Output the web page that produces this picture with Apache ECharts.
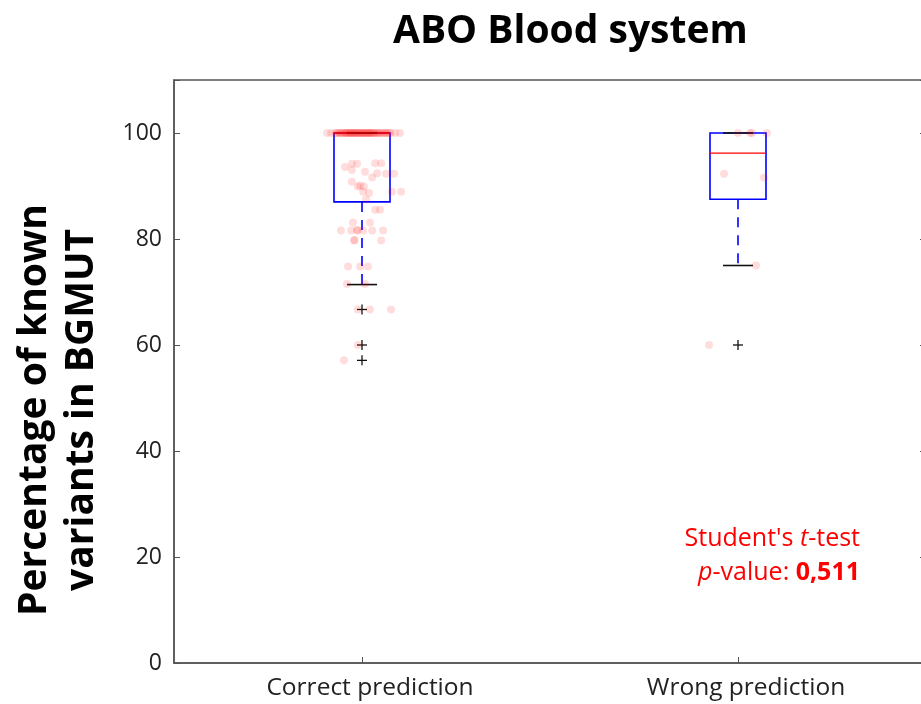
<!DOCTYPE html>
<html>
<head>
<meta charset="utf-8">
<script src="https://cdn.jsdelivr.net/npm/echarts@6/dist/echarts.min.js"></script>
<style>html,body{margin:0;padding:0;background:#fff;}#chart{width:921px;height:704px;}</style>
</head>
<body>
<div id="chart"></div>
<script>
// ---- data ----
const categories = ['Correct prediction', 'Wrong prediction'];
const lowerWhisker = [71.4, 75];
const q1 = [87.0, 87.5];
const median = [100, 96.2];
const q3 = [100, 100];
const upperWhisker = [100, 100];
const outliers = [[66.7, 60, 57.1], [60]];
const yTicks = [0, 20, 40, 60, 80, 100];

// jittered observations: [x position (category 1 or 2 + jitter), value]
const correctPoints = [
  [0.907,100],[0.918,100],[0.928,100],[0.933,100],[0.936,100],[0.941,100],[0.944,100],[0.947,100],
  [0.952,100],[0.955,100],[0.957,100],[0.960,100],[0.963,100],[0.966,100],[0.968,100],[0.971,100],
  [0.973,100],[0.976,100],[0.978,100],[0.981,100],[0.984,100],[0.986,100],[0.989,100],[0.992,100],
  [0.995,100],[0.997,100],[1.000,100],[1.003,100],[1.005,100],[1.008,100],[1.011,100],[1.014,100],
  [1.016,100],[1.019,100],[1.021,100],[1.024,100],[1.027,100],[1.030,100],[1.033,100],[1.036,100],
  [1.040,100],[1.043,100],[1.047,100],[1.051,100],[1.056,100],[1.060,100],[1.064,100],[1.068,100],
  [1.072,100],[1.077,100],[1.088,100],[1.101,100],
  [0.955,93.6],[0.973,94.2],[0.987,94.2],[0.973,93.0],[1.008,92.7],[1.035,94.3],[1.051,94.3],
  [1.040,92.4],[1.027,91.6],[1.064,92.3],[1.085,92.3],[0.973,90.8],[0.989,89.9],[0.995,90.1],
  [1.005,89.9],[1.003,88.9],[1.019,88.7],[1.080,88.9],[1.104,88.9],[1.011,87.5],
  [1.035,85.5],[1.048,85.5],[0.976,83.1],[1.021,83.1],
  [0.944,81.6],[0.971,81.6],[0.987,81.6],[0.988,81.7],[1.003,81.6],[1.027,81.6],[1.056,81.6],
  [0.979,79.7],[0.980,79.8],[1.051,79.7],
  [0.963,74.8],[0.995,74.8],[1.016,74.8],
  [0.960,71.5],[1.008,71.5],
  [0.989,66.7],[1.021,66.7],[1.077,66.7],
  [0.989,60.0],[0.952,57.1]
];
const wrongPoints = [
  [2.000,100],[2.032,100],[2.037,100],[2.077,100],
  [1.963,92.3],[2.069,91.6],[2.048,75.0],[1.923,60.0]
];

// ---- build ----
const boxData = categories.map((c, i) => [i + 1, lowerWhisker[i], q1[i], median[i], q3[i], upperWhisker[i]]);
const outlierData = [];
outliers.forEach((arr, i) => arr.forEach(v => outlierData.push([i + 1, v])));

const FONT = 'Open Sans';
const AXIS_COLOR = '#555';

function renderBox(params, api) {
  const x = api.value(0);
  const pt = v => api.coord([x, v]);
  const cx = pt(0)[0];
  const yLow = pt(api.value(1))[1];
  const yQ1 = pt(api.value(2))[1];
  const yMed = pt(api.value(3))[1];
  const yQ3 = pt(api.value(4))[1];
  const yHigh = pt(api.value(5))[1];
  const hw = 28, cw = 15;
  const blue = '#0000ff';
  return {
    type: 'group',
    children: [
      { type: 'line', shape: { x1: cx, y1: yQ1, x2: cx, y2: yLow }, style: { stroke: blue, lineWidth: 1.6, lineDash: [10, 8] } },
      { type: 'line', shape: { x1: cx, y1: yQ3, x2: cx, y2: yHigh }, style: { stroke: blue, lineWidth: 1.6, lineDash: [10, 8] } },
      { type: 'rect', shape: { x: cx - hw, y: yQ3, width: 2 * hw, height: yQ1 - yQ3 }, style: { fill: 'none', stroke: blue, lineWidth: 1.6 } },
      { type: 'line', shape: { x1: cx - hw, y1: yMed, x2: cx + hw, y2: yMed }, style: { stroke: '#ff0000', lineWidth: 1.4 } },
      { type: 'line', shape: { x1: cx - cw, y1: yLow, x2: cx + cw, y2: yLow }, style: { stroke: '#111', lineWidth: 1.6 } },
      { type: 'line', shape: { x1: cx - cw, y1: yHigh, x2: cx + cw, y2: yHigh }, style: { stroke: '#111', lineWidth: 1.6 } }
    ]
  };
}

function renderPlus(params, api) {
  const p = api.coord([api.value(0), api.value(1)]);
  const s = 5;
  return {
    type: 'group',
    children: [
      { type: 'line', shape: { x1: p[0] - s, y1: p[1], x2: p[0] + s, y2: p[1] }, style: { stroke: '#111', lineWidth: 1.3 } },
      { type: 'line', shape: { x1: p[0], y1: p[1] - s, x2: p[0], y2: p[1] + s }, style: { stroke: '#111', lineWidth: 1.3 } }
    ]
  };
}

const chart = echarts.init(document.getElementById('chart'), null, { renderer: 'canvas' });
chart.setOption({
  animation: false,
  backgroundColor: '#fff',
  title: {
    text: 'ABO Blood system',
    left: 388, top: 7,
    textStyle: { fontFamily: FONT, fontWeight: 'bold', fontSize: 39, color: '#000' }
  },
  grid: { left: 174, top: 80, width: 752, height: 583, show: true, borderColor: AXIS_COLOR, borderWidth: 1.5,
    containLabel: false, outerBoundsMode: 'none' },
  xAxis: [
    {
      type: 'category', data: categories, position: 'bottom', boundaryGap: true,
      axisLine: { lineStyle: { color: AXIS_COLOR, width: 1.5 } },
      axisTick: { show: true, inside: true, length: 6, alignWithLabel: true, lineStyle: { color: AXIS_COLOR } },
      axisLabel: { fontFamily: FONT, fontSize: 24.5, color: '#222', margin: 13, padding: [0, 0, 0, 16] },
      splitLine: { show: false }
    },
    { type: 'value', min: 0.5, max: 2.5, show: false, position: 'top' }
  ],
  yAxis: [
    {
      type: 'value', min: 0, max: 110, interval: 20, position: 'left',
      axisLine: { show: true, lineStyle: { color: AXIS_COLOR, width: 1.5 } },
      axisTick: { show: true, inside: true, length: 6, lineStyle: { color: AXIS_COLOR } },
      axisLabel: { fontFamily: FONT, fontSize: 23, color: '#222', margin: 12,
        formatter: v => (yTicks.indexOf(v) >= 0 ? String(v) : '') },
      splitLine: { show: false }
    },
    {
      type: 'value', min: 0, max: 110, interval: 20, position: 'right',
      axisLine: { show: false },
      axisTick: { show: true, inside: true, length: 6, lineStyle: { color: AXIS_COLOR } },
      axisLabel: { show: false },
      splitLine: { show: false }
    }
  ],
  series: [
    { type: 'custom', name: 'box', xAxisIndex: 1, yAxisIndex: 0, renderItem: renderBox, data: boxData, z: 2,
      encode: { x: 0, y: [1, 2, 3, 4, 5] }, silent: true },
    { type: 'custom', name: 'outliers', xAxisIndex: 1, yAxisIndex: 0, renderItem: renderPlus, data: outlierData, z: 3,
      encode: { x: 0, y: 1 }, silent: true },
    { type: 'scatter', name: 'Correct prediction', xAxisIndex: 1, yAxisIndex: 0, data: correctPoints, symbolSize: 8, z: 4,
      itemStyle: { color: 'rgba(255,0,0,0.17)' }, silent: true },
    { type: 'scatter', name: 'Wrong prediction', xAxisIndex: 1, yAxisIndex: 0, data: wrongPoints, symbolSize: 8, z: 4,
      itemStyle: { color: 'rgba(255,0,0,0.17)' }, silent: true }
  ],
  graphic: [
    {
      type: 'text', x: 58, y: 410, rotation: Math.PI / 2, z: 10,
      style: {
        text: 'Percentage of known\nvariants in BGMUT',
        align: 'center', verticalAlign: 'middle',
        fontFamily: FONT, fontWeight: 'bold', fontSize: 39, fill: '#000', lineHeight: 47
      }
    },
    {
      type: 'text', x: 860, y: 556, z: 10,
      style: {
        text: "{n|Student's }{i|t}{n|-test}\n{i|p}{n|-value: }{b|0,511}",
        align: 'right', verticalAlign: 'middle',
        rich: {
          n: { fontFamily: FONT, fontSize: 25, fill: '#ff0000', lineHeight: 34 },
          i: { fontFamily: FONT, fontSize: 25, fill: '#ff0000', fontStyle: 'italic', lineHeight: 34 },
          b: { fontFamily: FONT, fontSize: 25, fill: '#ff0000', fontWeight: 'bold', lineHeight: 34 }
        }
      }
    }
  ]
});
</script>
</body>
</html>
